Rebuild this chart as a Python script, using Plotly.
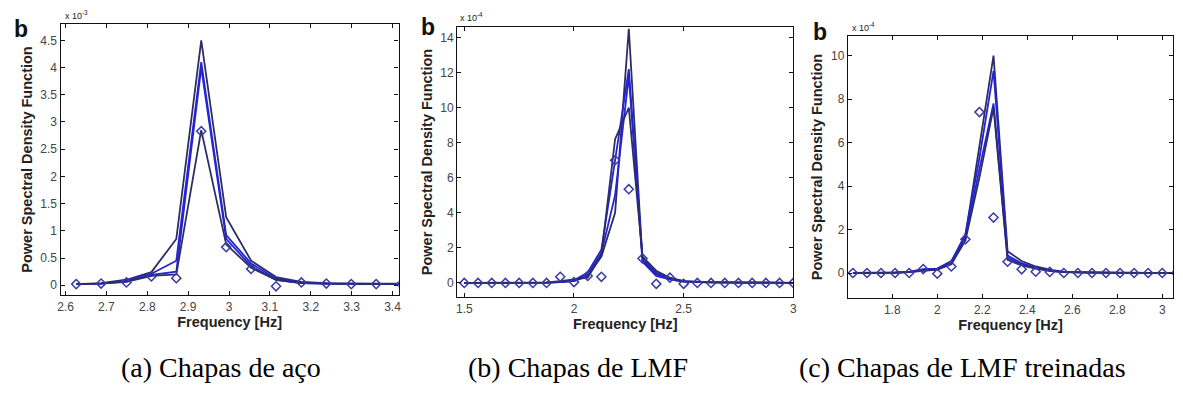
import plotly.graph_objects as go

W, H = 1183, 396

# ---------------- data ----------------
# (a) Chapas de aço  (x 10^-3)
freq_a = [2.626, 2.687, 2.749, 2.810, 2.871, 2.932, 2.993, 3.054, 3.115, 3.177, 3.238, 3.299, 3.360, 3.421]
a_s1 = [0.02, 0.04, 0.10, 0.24, 0.85, 4.50, 1.25, 0.45, 0.15, 0.06, 0.04, 0.03, 0.03, 0.03]
a_s2 = [0.02, 0.03, 0.08, 0.21, 0.45, 4.10, 0.92, 0.40, 0.12, 0.05, 0.03, 0.02, 0.02, 0.02]
a_s3 = [0.02, 0.03, 0.07, 0.19, 0.25, 4.00, 0.85, 0.35, 0.10, 0.04, 0.03, 0.02, 0.02, 0.02]
a_s4 = [0.02, 0.03, 0.06, 0.17, 0.20, 2.85, 0.75, 0.32, 0.10, 0.04, 0.03, 0.02, 0.02, 0.02]
a_mk = [0.02, 0.03, 0.05, 0.16, 0.13, 2.83, 0.70, 0.30, -0.02, 0.05, 0.03, 0.02, 0.02, 0.02]

# (b) Chapas de LMF  (x 10^-4)
freq_b = [1.5, 1.5625, 1.625, 1.6875, 1.75, 1.8125, 1.875, 1.9375, 2.0, 2.0625, 2.125, 2.1875,
          2.25, 2.3125, 2.375, 2.4375, 2.5, 2.5625, 2.625, 2.6875, 2.75, 2.8125, 2.875, 2.9375, 3.0]
b_s1 = [0.0, 0.0, 0.0, 0.0, 0.0, 0.01, 0.02, 0.05, 0.10, 0.40, 1.50, 4.00, 14.5, 1.30, 0.50,
        0.20, 0.08, 0.05, 0.03, 0.02, 0.02, 0.02, 0.01, 0.01, 0.01]
b_s2 = [0.0, 0.0, 0.0, 0.0, 0.0, 0.01, 0.02, 0.06, 0.15, 0.60, 1.90, 7.00, 12.2, 1.40, 0.60,
        0.25, 0.10, 0.05, 0.03, 0.02, 0.02, 0.02, 0.01, 0.01, 0.01]
b_s3 = [0.0, 0.0, 0.0, 0.0, 0.0, 0.01, 0.02, 0.05, 0.12, 0.50, 1.70, 5.00, 11.8, 1.20, 0.40,
        0.20, 0.08, 0.05, 0.03, 0.02, 0.02, 0.02, 0.01, 0.01, 0.01]
b_s4 = [0.0, 0.0, 0.0, 0.0, 0.0, 0.01, 0.03, 0.10, 0.20, 0.30, 1.60, 8.20, 10.0, 1.50, 0.70,
        0.30, 0.10, 0.06, 0.04, 0.03, 0.02, 0.02, 0.02, 0.01, 0.01]
b_mk = [0.0, 0.0, 0.0, 0.0, 0.0, 0.0, 0.0, 0.35, 0.05, 0.40, 0.35, 7.00, 5.35, 1.40, -0.05,
        0.30, -0.05, 0.0, 0.0, 0.0, 0.0, 0.0, 0.0, 0.0, 0.0]

# (c) Chapas de LMF treinadas  (x 10^-4)
freq_c = [1.625, 1.6875, 1.75, 1.8125, 1.875, 1.9375, 2.0, 2.0625, 2.125, 2.1875, 2.25, 2.3125,
          2.375, 2.4375, 2.5, 2.5625, 2.625, 2.6875, 2.75, 2.8125, 2.875, 2.9375, 3.0, 3.0625]
c_s1 = [0.0, 0.0, 0.0, 0.02, 0.05, 0.15, 0.20, 0.55, 1.70, 5.80, 10.0, 1.00, 0.55, 0.30,
        0.15, 0.05, 0.03, 0.02, 0.02, 0.01, 0.01, 0.01, 0.01, 0.01]
c_s2 = [0.0, 0.0, 0.0, 0.02, 0.05, 0.18, 0.20, 0.50, 1.80, 5.30, 9.30, 0.80, 0.45, 0.25,
        0.12, 0.05, 0.03, 0.02, 0.02, 0.01, 0.01, 0.01, 0.01, 0.01]
c_s3 = [0.0, 0.0, 0.0, 0.02, 0.04, 0.12, 0.15, 0.45, 1.60, 4.80, 7.80, 0.70, 0.40, 0.22,
        0.10, 0.04, 0.03, 0.02, 0.02, 0.01, 0.01, 0.01, 0.01, 0.01]
c_s4 = [0.0, 0.0, 0.0, 0.02, 0.04, 0.10, 0.15, 0.40, 1.50, 4.40, 7.60, 0.60, 0.35, 0.20,
        0.10, 0.04, 0.02, 0.02, 0.01, 0.01, 0.01, 0.01, 0.01, 0.01]
c_mk = [0.0, 0.0, 0.0, 0.0, 0.0, 0.18, -0.03, 0.30, 1.55, 7.40, 2.55, 0.52, 0.17, 0.06,
        0.05, 0.0, 0.0, 0.0, 0.0, 0.0, 0.0, 0.0, 0.0, 0.0]

# tick values
xt_a = [2.6, 2.7, 2.8, 2.9, 3.0, 3.1, 3.2, 3.3, 3.4]
xl_a = ["2.6", "2.7", "2.8", "2.9", "3", "3.1", "3.2", "3.3", "3.4"]
yt_a = [0, 0.5, 1, 1.5, 2, 2.5, 3, 3.5, 4, 4.5]
yl_a = ["0", "0.5", "1", "1.5", "2", "2.5", "3", "3.5", "4", "4.5"]
xt_b = [1.5, 2.0, 2.5, 3.0]
xl_b = ["1.5", "2", "2.5", "3"]
yt_b = [0, 2, 4, 6, 8, 10, 12, 14]
xt_c = [1.8, 2.0, 2.2, 2.4, 2.6, 2.8, 3.0]
xl_c = ["1.8", "2", "2.2", "2.4", "2.6", "2.8", "3"]
yt_c = [0, 2, 4, 6, 8, 10]

captions = ["(a) Chapas de aço", "(b) Chapas de LMF", "(c) Chapas de LMF treinadas"]
exponents = ["x 10<sup>-3</sup>", "x 10<sup>-4</sup>", "x 10<sup>-4</sup>"]

# ---------------- layout helpers ----------------
BLUE = "#2424d4"
DARK = "#2c2c66"
MK = "#3a3aa6"

# pixel boxes: (left, right, top, bottom)
boxes = [(58, 398, 24, 295), (457, 795, 27, 297), (850, 1177, 36, 298)]
xranges = [[2.588, 3.415], [1.468, 3.0], [1.603, 3.048]]
yranges = [[-0.18, 4.8], [-0.8, 14.6], [-1.15, 10.9]]

fig = go.Figure()

panels = [
    (freq_a, [a_s1, a_s2, a_s3, a_s4], a_mk),
    (freq_b, [b_s1, b_s2, b_s3, b_s4], b_mk),
    (freq_c, [c_s1, c_s2, c_s3, c_s4], c_mk),
]
line_colors = [DARK, BLUE, BLUE, DARK]

for i, (fx, series, mk) in enumerate(panels):
    xa = "x" if i == 0 else f"x{i+1}"
    ya = "y" if i == 0 else f"y{i+1}"
    for j, s in enumerate(series):
        fig.add_trace(go.Scatter(x=fx, y=s, mode="lines", xaxis=xa, yaxis=ya,
                                 line=dict(color=line_colors[j], width=1.8),
                                 showlegend=False, hoverinfo="skip"))
    fig.add_trace(go.Scatter(x=fx, y=mk, mode="markers", xaxis=xa, yaxis=ya,
                             marker=dict(symbol="diamond-open", size=7, color=MK,
                                         line=dict(width=1.5, color=MK)),
                             showlegend=False, hoverinfo="skip"))

tickfont = dict(family="Arial, Liberation Sans, sans-serif", size=12, color="#444")
titlefont = dict(family="Arial, Liberation Sans, sans-serif", size=14.5, color="#222")

xticks = [(xt_a, xl_a), (xt_b, xl_b), (xt_c, xl_c)]
yticks = [(yt_a, yl_a), (yt_b, [str(v) for v in yt_b]), (yt_c, [str(v) for v in yt_c])]

layout = {}
for i, (l, r, t, b) in enumerate(boxes):
    sx = "xaxis" if i == 0 else f"xaxis{i+1}"
    sy = "yaxis" if i == 0 else f"yaxis{i+1}"
    ya = "y" if i == 0 else f"y{i+1}"
    xa = "x" if i == 0 else f"x{i+1}"
    common = dict(showline=True, linecolor="#111", linewidth=1.4, mirror="ticks",
                  ticks="inside", ticklen=4, tickcolor="#111", showgrid=False,
                  zeroline=False, tickfont=tickfont)
    layout[sx] = dict(domain=[l / W, r / W], range=xranges[i], anchor=ya,
                      tickvals=xticks[i][0], ticktext=xticks[i][1],
                      title=dict(text="<b>Frequency [Hz]</b>", font=titlefont, standoff=1),
                      **common)
    layout[sy] = dict(domain=[1 - b / H, 1 - t / H], range=yranges[i], anchor=xa,
                      tickvals=yticks[i][0], ticktext=yticks[i][1],
                      title=dict(text="<b>Power Spectral Density Function</b>", font=titlefont,
                                 standoff=4),
                      **common)

annotations = []
b_pos = [(18, 29), (428, 27), (822, 32)]
exp_pos = [(60, 15), (458, 17), (852, 27)]
cap_centers = [219, 578, 965]
for i in range(3):
    annotations.append(dict(x=b_pos[i][0] / W, y=1 - b_pos[i][1] / H, xref="paper", yref="paper",
                            text="<b>b</b>", showarrow=False, xanchor="center", yanchor="middle",
                            font=dict(family="Arial, Liberation Sans, sans-serif", size=23, color="#111")))
    annotations.append(dict(x=exp_pos[i][0] / W, y=1 - exp_pos[i][1] / H, xref="paper", yref="paper",
                            text=exponents[i], showarrow=False, xanchor="left", yanchor="middle",
                            font=dict(family="Arial, Liberation Sans, sans-serif", size=9, color="#222")))
    annotations.append(dict(x=cap_centers[i] / W, y=1 - 367 / H, xref="paper", yref="paper",
                            text=captions[i], showarrow=False, xanchor="center", yanchor="middle",
                            font=dict(family="Liberation Serif, Times New Roman, serif", size=28,
                                      color="#000")))

fig.update_layout(width=W, height=H, margin=dict(l=0, r=0, t=0, b=0),
                  paper_bgcolor="white", plot_bgcolor="white",
                  annotations=annotations, **layout)

fig.write_html("out.html")
